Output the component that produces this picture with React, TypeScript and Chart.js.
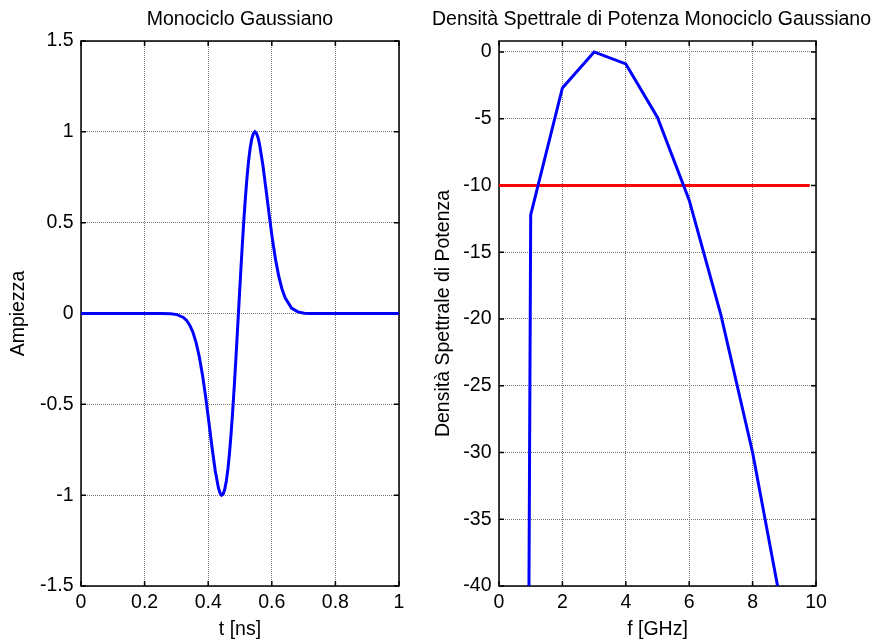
import React, { useEffect, useRef } from 'react';
import { Chart, registerables } from 'chart.js';

Chart.register(...registerables);

// ---- Left plot: Gaussian monocycle ----
const timeNs = [
  0, 0.25, 0.282, 0.302, 0.322, 0.332, 0.342, 0.352, 0.362, 0.372,
  0.382, 0.392, 0.402, 0.412, 0.422, 0.432, 0.437, 0.442, 0.447, 0.452,
  0.457, 0.462, 0.467, 0.472, 0.477, 0.482, 0.487, 0.492, 0.497, 0.502,
  0.507, 0.512, 0.517, 0.522, 0.527, 0.532, 0.537, 0.542, 0.547, 0.552,
  0.557, 0.562, 0.572, 0.582, 0.592, 0.602, 0.612, 0.622, 0.632, 0.642,
  0.662, 0.682, 0.702, 0.722, 1,
];
const amplitude = [
  0, 0, -0.0015, -0.006, -0.022, -0.038, -0.064, -0.103, -0.16, -0.238,
  -0.338, -0.459, -0.596, -0.736, -0.864, -0.959, -0.987, -1.0, -0.994, -0.968,
  -0.922, -0.856, -0.768, -0.661, -0.537, -0.4, -0.251, -0.095, 0.063, 0.22,
  0.37, 0.511, 0.638, 0.748, 0.84, 0.911, 0.961, 0.99, 1.0, 0.991,
  0.966, 0.926, 0.816, 0.68, 0.54, 0.408, 0.295, 0.204, 0.135, 0.086,
  0.03, 0.009, 0.002, 0, 0,
];
const timeTicks = [0, 0.2, 0.4, 0.6, 0.8, 1];
const ampTicks = [-1.5, -1, -0.5, 0, 0.5, 1, 1.5];

// ---- Right plot: power spectral density ----
const freqGHz = [0, 1, 2, 3, 4, 5, 6, 7, 8, 9];
const psdDb = [-520, -12.2, -2.7, 0, -0.9, -4.9, -11.1, -19.7, -30.0, -42.7];
const thresholdFreq = [0, 9.8];
const thresholdDb = [-10, -10];
const freqTicks = [0, 2, 4, 6, 8, 10];
const psdTicks = [-40, -35, -30, -25, -20, -15, -10, -5, 0];

const FONT = '"Liberation Sans", Arial, Helvetica, sans-serif';
const FS = 19.5;
const GRID = '#777';

const toPoints = (xs: number[], ys: number[]) => xs.map((x, i) => ({ x, y: ys[i] }));

const framePlugin = {
  id: 'matlabFrame',
  beforeDatasetsDraw(chart: any) {
    const { ctx, chartArea: a, scales } = chart;
    const xs = scales.x;
    const ys = scales.y;
    ctx.save();
    ctx.strokeStyle = '#000';
    ctx.lineWidth = 1.5;
    ctx.setLineDash([]);
    ctx.strokeRect(a.left, a.top, a.right - a.left, a.bottom - a.top);
    const L = 5;
    ctx.beginPath();
    for (const t of xs.ticks) {
      const px = xs.getPixelForValue(t.value);
      ctx.moveTo(px, a.bottom);
      ctx.lineTo(px, a.bottom - L);
      ctx.moveTo(px, a.top);
      ctx.lineTo(px, a.top + L);
    }
    for (const t of ys.ticks) {
      const py = ys.getPixelForValue(t.value);
      ctx.moveTo(a.left, py);
      ctx.lineTo(a.left + L, py);
      ctx.moveTo(a.right, py);
      ctx.lineTo(a.right - L, py);
    }
    ctx.stroke();
    ctx.restore();
  },
};

const font = { family: FONT, size: FS, weight: 'normal' as const, lineHeight: 1.2 };
const plainLabel = (v: any) => String(Number(v));

function xScale(min: number, max: number, ticks: number[], title: string) {
  return {
    type: 'linear' as const,
    position: 'bottom' as const,
    min,
    max,
    afterBuildTicks: (s: any) => {
      s.ticks = ticks.map((v) => ({ value: v }));
    },
    afterFit: (s: any) => {
      s.height = 58;
    },
    grid: { color: GRID, lineWidth: 1, drawTicks: false },
    border: { display: false, dash: [1, 1] },
    ticks: {
      color: '#000',
      font,
      padding: 5,
      autoSkip: false,
      maxRotation: 0,
      minRotation: 0,
      callback: plainLabel,
    },
    title: { display: true, text: title, color: '#000', font, padding: { top: 0, bottom: 2.3 } },
  };
}

function yScale(min: number, max: number, ticks: number[], title: string, width: number, titlePad: number) {
  return {
    type: 'linear' as const,
    position: 'left' as const,
    min,
    max,
    afterBuildTicks: (s: any) => {
      s.ticks = ticks.map((v) => ({ value: v }));
    },
    afterFit: (s: any) => {
      s.width = width;
    },
    grid: { color: GRID, lineWidth: 1, drawTicks: false },
    border: { display: false, dash: [1, 1] },
    ticks: { color: '#000', font, padding: 7.5, autoSkip: false, callback: plainLabel },
    title: { display: true, text: title, color: '#000', font, padding: { top: titlePad, bottom: 0 } },
  };
}

export default function App() {
  const leftRef = useRef<HTMLCanvasElement>(null);
  const rightRef = useRef<HTMLCanvasElement>(null);

  useEffect(() => {
    const left = new Chart(leftRef.current as HTMLCanvasElement, {
      type: 'scatter',
      data: {
        datasets: [
          {
            data: toPoints(timeNs, amplitude),
            showLine: true,
            borderColor: '#0000ff',
            backgroundColor: '#0000ff',
            borderWidth: 3,
            pointRadius: 0,
            tension: 0,
            xAxisID: 'x',
            yAxisID: 'y',
          },
        ],
      },
      options: {
        animation: false,
        responsive: false,
        layout: { padding: { left: 0, right: 41, top: 0, bottom: 0 } },
        plugins: {
          legend: { display: false },
          tooltip: { enabled: false },
          title: {
            display: true,
            text: 'Monociclo Gaussiano',
            fullSize: false,
            color: '#000',
            font,
            padding: { top: 8, bottom: 9.6 },
          },
        },
        scales: {
          x: xScale(0, 1, timeTicks, 't [ns]'),
          y: yScale(-1.5, 1.5, ampTicks, 'Ampiezza', 81, 7),
        },
      } as any,
      plugins: [framePlugin],
    });

    const right = new Chart(rightRef.current as HTMLCanvasElement, {
      type: 'scatter',
      data: {
        datasets: [
          {
            data: toPoints(freqGHz, psdDb),
            showLine: true,
            borderColor: '#0000ff',
            backgroundColor: '#0000ff',
            borderWidth: 3,
            pointRadius: 0,
            tension: 0,
            xAxisID: 'x',
            yAxisID: 'y',
          },
          {
            data: toPoints(thresholdFreq, thresholdDb),
            showLine: true,
            borderColor: '#ff0000',
            backgroundColor: '#ff0000',
            borderWidth: 3,
            pointRadius: 0,
            tension: 0,
            xAxisID: 'x',
            yAxisID: 'y',
          },
        ],
      },
      options: {
        animation: false,
        responsive: false,
        layout: { padding: 0 },
        plugins: {
          legend: { display: false },
          tooltip: { enabled: false },
          title: {
            display: true,
            text: 'Densità Spettrale di Potenza Monociclo Gaussiano',
            fullSize: true,
            align: 'start',
            color: '#000',
            font,
            padding: { top: 8, bottom: 9.6 },
          },
        },
        scales: {
          x: xScale(0, 10, freqTicks, 'f [GHz]'),
          y: yScale(-40, 0.82, psdTicks, 'Densità Spettrale di Potenza', 67, 0),
          yPad: {
            type: 'linear',
            position: 'right',
            display: true,
            grid: { display: false },
            border: { display: false },
            ticks: { display: false },
            afterFit: (s: any) => {
              s.width = 61;
            },
          },
        },
      } as any,
      plugins: [framePlugin],
    });

    return () => {
      left.destroy();
      right.destroy();
    };
  }, []);

  return (
    <div
      style={{
        position: 'absolute',
        left: 0,
        top: 0,
        width: 877,
        height: 644,
        background: '#fff',
        overflow: 'hidden',
      }}
    >
      <canvas
        ref={leftRef}
        width={440}
        height={644}
        style={{ position: 'absolute', left: 0, top: 0, width: 440, height: 644 }}
      />
      <canvas
        ref={rightRef}
        width={445}
        height={644}
        style={{ position: 'absolute', left: 432, top: 0, width: 445, height: 644 }}
      />
    </div>
  );
}
